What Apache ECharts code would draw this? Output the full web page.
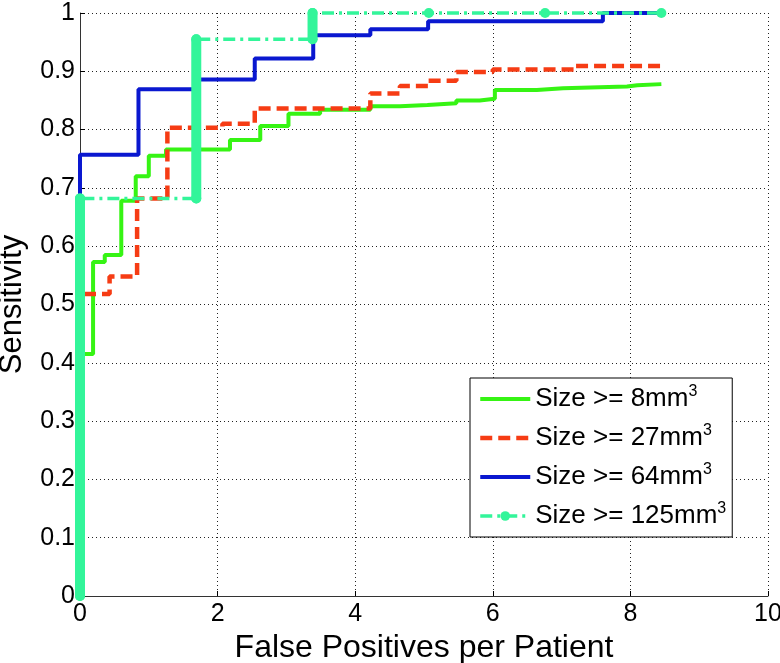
<!DOCTYPE html>
<html>
<head>
<meta charset="utf-8">
<script src="https://cdn.jsdelivr.net/npm/echarts@6/dist/echarts.min.js"></script>
<style>
html,body{margin:0;padding:0;background:#fff;}
#chart{width:780px;height:663px;}
</style>
</head>
<body>
<div id="chart"></div>
<script>
// ---- data ----
const seriesNames = ['Size >= 8mm³', 'Size >= 27mm³', 'Size >= 64mm³', 'Size >= 125mm³'];

const greenFP   = [0, 0, 0.19, 0.36, 0.60, 0.81, 1.00, 1.25, 2.18, 2.62, 3.03, 3.49, 4.22, 4.65, 5.05, 5.47, 5.81, 6.03, 6.64, 7.02, 7.95, 8.10, 8.45];
const greenSens = [0, 0.415, 0.573, 0.585, 0.678, 0.720, 0.755, 0.766, 0.782, 0.806, 0.827, 0.834, 0.840, 0.842, 0.845, 0.850, 0.853, 0.868, 0.871, 0.874, 0.876, 0.878, 0.878];

const redFP   = [0, 0, 0.43, 0.83, 1.27, 2.07, 2.54, 4.22, 4.65, 5.06, 5.47, 6.00, 7.20, 8.45];
const redSens = [0, 0.518, 0.548, 0.682, 0.803, 0.810, 0.836, 0.862, 0.875, 0.884, 0.899, 0.903, 0.909, 0.909];

const blueFP   = [0, 0, 0.85, 1.70, 2.54, 3.39, 4.22, 5.06, 7.60, 8.45];
const blueSens = [0, 0.757, 0.869, 0.886, 0.922, 0.962, 0.972, 0.986, 1.0, 1.0];

const cyanFP   = [0, 0, 1.69, 1.69, 3.38, 3.38, 5.07, 6.76, 8.45];
const cyanSens = [0, 0.682, 0.682, 0.955, 0.955, 1.0, 1.0, 1.0, 1.0];

const xTicks = [0, 2, 4, 6, 8, 10];
const yTicks = [0, 0.1, 0.2, 0.3, 0.4, 0.5, 0.6, 0.7, 0.8, 0.9, 1];

// ---- build ----
function pairs(xs, ys) { return xs.map((x, i) => [x, ys[i]]); }

const colors = ['#36f414', '#f63c14', '#0a18d0', '#33f59a'];
const widths = [4, 4.5, 4, 3.5];
const dashes = ['solid', [12, 6], 'solid', [12, 5, 3, 5]];
const FONT = 'Liberation Sans, Arial, sans-serif';

// vertical runs of the 125mm3 curve (drawn heavy, as dense markers in the original)
const cyanRuns = [];
for (let i = 0; i < cyanFP.length - 1; i++) {
  if (cyanFP[i] === cyanFP[i + 1] && cyanSens[i] !== cyanSens[i + 1]) {
    cyanRuns.push([[cyanFP[i], cyanSens[i]], [cyanFP[i + 1], cyanSens[i + 1]]]);
  }
}

const stepData = [pairs(greenFP, greenSens), pairs(redFP, redSens), pairs(blueFP, blueSens)];
const series = stepData.map((d, i) => ({
  name: seriesNames[i], type: 'line', step: 'end', data: d, symbol: 'none', z: 2 + i,
  lineStyle: { color: colors[i], width: widths[i], type: dashes[i] }, itemStyle: { color: colors[i] }
}));
cyanRuns.forEach(run => {
  series.push({ name: 'run', type: 'line', data: run, symbol: 'none', z: 5, clip: false,
    lineStyle: { color: colors[3], width: 10, cap: 'round' }, silent: true });
});
series.push({ name: seriesNames[3], type: 'line', data: pairs(cyanFP, cyanSens),
  symbol: 'circle', symbolSize: 10, showAllSymbol: true, z: 6, clip: false,
  lineStyle: { color: colors[3], width: widths[3], type: dashes[3] }, itemStyle: { color: colors[3] } });

const chart = echarts.init(document.getElementById('chart'), null, { renderer: 'canvas' });
chart.setOption({
  animation: false,
  backgroundColor: '#fff',
  grid: { left: 80, right: 12, top: 13, bottom: 67, containLabel: false, outerBoundsMode: 'none' },
  xAxis: {
    type: 'value', min: xTicks[0], max: xTicks[xTicks.length - 1], interval: 2,
    name: 'False Positives per Patient', nameLocation: 'middle', nameGap: 29,
    nameTextStyle: { fontFamily: FONT, fontSize: 32, color: '#000' },
    axisLine: { show: true, onZero: false, lineStyle: { color: '#333', width: 1 } },
    axisTick: { show: true, inside: true, length: 5, lineStyle: { color: '#000' } },
    axisLabel: { fontFamily: FONT, fontSize: 25, color: '#000', margin: 6 },
    splitLine: { show: true, lineStyle: { color: '#222', width: 1, type: [1, 3] } }
  },
  yAxis: {
    type: 'value', min: yTicks[0], max: yTicks[yTicks.length - 1], interval: 0.1,
    name: 'Sensitivity', nameLocation: 'middle', nameGap: 52, nameRotate: 90,
    nameTextStyle: { fontFamily: FONT, fontSize: 31, color: '#000' },
    axisLine: { show: true, onZero: false, lineStyle: { color: '#333', width: 1 } },
    axisTick: { show: true, inside: true, length: 5, lineStyle: { color: '#000' } },
    axisLabel: { fontFamily: FONT, fontSize: 25, color: '#000', margin: 5 },
    splitLine: { show: true, lineStyle: { color: '#222', width: 1, type: [1, 3] } }
  },
  legend: {
    data: seriesNames.map((n, i) => ({
      name: n,
      itemStyle: i < 3 ? { opacity: 0 } : { color: colors[i] },
      lineStyle: { color: colors[i], width: widths[i], type: dashes[i] }
    })),
    orient: 'vertical',
    left: 470, top: 378,
    backgroundColor: '#fff',
    borderColor: '#000', borderWidth: 1, borderRadius: 0,
    padding: [6, 6, 6, 8],
    itemWidth: 50, itemHeight: 12, itemGap: 9,
    formatter: n => n.replace('³', '{sup|3}'),
    textStyle: {
      fontFamily: FONT, fontSize: 26, color: '#000', lineHeight: 30,
      rich: { sup: { fontFamily: FONT, fontSize: 16, color: '#000', verticalAlign: 'top', lineHeight: 16 } }
    }
  },
  series: series
});
</script>
</body>
</html>
